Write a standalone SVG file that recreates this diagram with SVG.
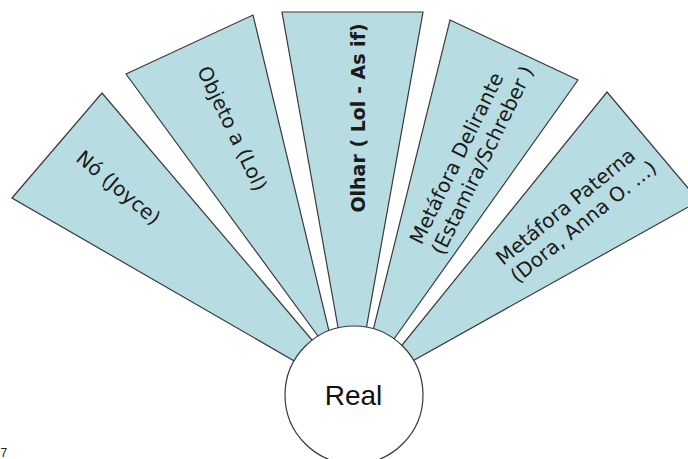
<svg xmlns="http://www.w3.org/2000/svg" width="688" height="459" viewBox="0 0 688 459">
<style>
.wedge{fill:#b7dde2;stroke:#3a3a3a;stroke-width:1.2;stroke-linejoin:miter}
.lbl{font-family:"DejaVu Sans","Liberation Sans",sans-serif;font-size:20px;fill:#1a1a1a}
.bold{font-weight:bold;font-size:19px}
.real{fill:#ffffff;stroke:#3a3a3a;stroke-width:1.2}
.realtxt{font-family:"Liberation Sans",Arial,sans-serif;font-size:28px;fill:#111;text-anchor:middle}
</style>
<rect x="0" y="0" width="688" height="459" fill="#ffffff"/>
<g id="connectors"/>
<g id="node-no">
<polygon class="wedge" points="12,198 102,93 329,360 315,373"/>
<text class="lbl" text-anchor="middle" transform="translate(114,193) rotate(40)">Nó (Joyce)</text>
</g>
<g id="node-objeto">
<polygon class="wedge" points="126,74 253,15 335,356 337,362"/>
<text class="lbl" text-anchor="middle" transform="translate(226,131.5) rotate(64.5)">Objeto a (Lol)</text>
</g>
<g id="node-olhar">
<polygon class="wedge" points="282,12 423,12 362,352 342,350"/>
<text class="lbl bold" text-anchor="middle" transform="translate(365,118) rotate(-90)">Olhar ( Lol - As if)</text>
</g>
<g id="node-delirante">
<polygon class="wedge" points="450,20 578,80 384,353 367,355"/>
<text class="lbl" transform="translate(421.6,245.8) rotate(-64)"><tspan x="0" y="0">Metáfora Delirante</tspan><tspan x="0" y="24">(Estamira/Schreber )</tspan></text>
</g>
<g id="node-paterna">
<polygon class="wedge" points="607,92 699,201 400,368 390,360"/>
<text class="lbl" transform="translate(503,266) rotate(-39)"><tspan x="0" y="0">Metáfora Paterna</tspan><tspan x="0" y="23">(Dora, Anna O. ...)</tspan></text>
</g>
<g id="node-real">
<circle class="real" cx="354" cy="395" r="69"/>
<text class="realtxt" x="353.5" y="405">Real</text>
</g>
<text x="0.5" y="457" font-family="Liberation Sans,Arial,sans-serif" font-size="12" fill="#222">7</text>
</svg>
